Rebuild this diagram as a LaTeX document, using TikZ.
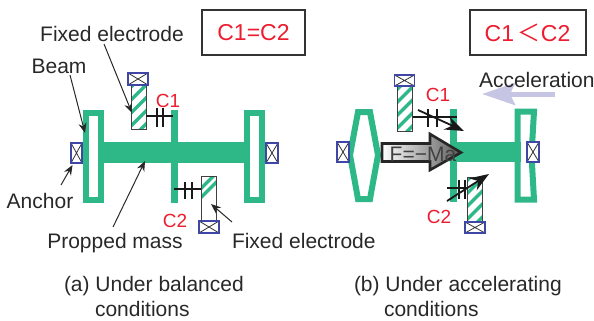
\documentclass[tikz,border=0pt]{standalone}
\usepackage{fontspec}
\setmainfont{Liberation Sans}
\newfontfamily\cjk{Noto Sans CJK SC}
\usepackage{tikz}
\usetikzlibrary{calc,arrows.meta}

\definecolor{massgreen}{RGB}{46,184,136}
\definecolor{anchorblue}{RGB}{64,70,165}
\definecolor{labelred}{RGB}{237,28,46}
\definecolor{textgray}{RGB}{40,40,40}
\definecolor{accelblue}{RGB}{198,198,228}

\tikzset{
    label_txt/.style={text=textgray, inner sep=0pt, font=\fontsize{21}{25}\selectfont},
    cap_txt/.style={text=labelred, inner sep=0pt, font=\fontsize{19}{23}\selectfont},
    cond_box/.style={draw=black!80, line width=2pt, text=labelred, inner sep=0pt,
        minimum height=45pt, font=\fontsize{23}{27}\selectfont},
    anchor_box/.style={draw=anchorblue, line width=1.2pt, fill=white, inner sep=0pt,
        path picture={
            \draw[line width=0.8pt, black!80]
            (path picture bounding box.north west) -- (path picture bounding box.south east)
            (path picture bounding box.north east) -- (path picture bounding box.south west);
        }},
    elec_box/.style={draw=black!75, line width=0.9pt, inner sep=0pt, minimum width=15pt,
        minimum height=45pt,
        path picture={
            \foreach \k in {#1}
            \draw[massgreen, line width=3.4pt]
            ($(path picture bounding box.south west) + (-2pt, \k pt)$) -- ++(20pt, 20pt);
        }},
    call_arrow/.style={-{Stealth[length=10pt, width=8pt]}, line width=1pt, textgray},
    plate/.style={line width=2pt, black!90},
    beam/.style={draw=massgreen, line width=6pt, miter limit=10},
    move_arrow/.style={-{Stealth[length=19pt, width=14pt]}, line width=1.8pt, black!90},
}

\begin{document}
\begin{tikzpicture}[x=1pt,y=-1pt,inner sep=0pt,outer sep=0pt]
    \useasboundingbox (0,0) rectangle (594,321);

    % balanced device
    \fill[massgreen] (104,142) rectangle (244,163);
    \fill[massgreen] (171,110) rectangle (178,203);
    \draw[beam] (86,113) rectangle (101,200);
    \draw[beam] (247,113) rectangle (262,200);

    \node[anchor_box, minimum width=11pt, minimum height=20pt] (anchor_l) at (76.5,153) {};
    \node[anchor_box, minimum width=12pt, minimum height=20pt] (anchor_r) at (272,153) {};

    % fixed electrodes
    \node[elec_box={-12,1,14,27,40}] (elec_top) at (138.5,106.5) {};
    \node[anchor_box, minimum width=20pt, minimum height=12pt] (elec_top_a) at (138,79) {};
    \node[elec_box={22,31}] (elec_bot) at (208.5,199) {};
    \node[anchor_box, minimum width=20pt, minimum height=12pt] (elec_bot_a) at (209,227) {};

    % capacitors
    \coordinate (c1_end) at (173,116);
    \draw[plate] (elec_top.east |- c1_end) -- (c1_end);
    \draw[plate] (157,108) -- (157,127) (163,108) -- (163,127);
    \coordinate (c2_end) at (174,189);
    \draw[plate] (c2_end) -- (elec_bot.west |- c2_end);
    \draw[plate] (185,182) -- (185,199) (192,182) -- (192,199);
    \node[cap_txt] (c1_txt) at (168,101) {C1};
    \node[cap_txt] (c2_txt) at (175,221) {C2};

    % labels
    \node[label_txt] (fixed_top) at (112,34) {Fixed electrode};
    \node[label_txt] (beam_txt) at (59,66) {Beam};
    \node[label_txt] (anchor_txt) at (40,201) {Anchor};
    \node[label_txt] (mass_txt) at (115,243) {Propped mass};
    \node[label_txt, anchor=west] (fixed_bot) at (232,241) {Fixed electrode};
    \node[cond_box, minimum width=103pt] (cond_a) at (253.5,32.5) {C1=C2};

    \coordinate (fixed_top_e) at (132,113);
    \coordinate (beam_e) at (85,133);
    \coordinate (mass_e) at (145,161);
    \coordinate (fixed_bot_e) at (211,204);
    \draw[call_arrow] (104,44) -- (fixed_top_e);
    \draw[call_arrow] (70,75) -- (beam_e);
    \draw[call_arrow] (61,185) -- ($(anchor_l.south) + (-4,2)$);
    \draw[call_arrow] (113,227) -- (mass_e);
    \draw[call_arrow] (232,222) -- (fixed_bot_e);

    % accelerating device
    \fill[massgreen] (457,142) rectangle (521,162);
    \fill[massgreen] (450,109) rectangle (457,202);
    \draw[beam] (358,112) -- (370,112) -- (378,155) -- (370,199) -- (358,199) -- (350,155) -- cycle;
    \draw[beam] (517.5,111.5) -- (534,111.5) -- (531.5,155) -- (534,199.5) -- (517.5,199.5) -- cycle;

    \node[anchor_box, minimum width=12pt, minimum height=20pt] (anchor_l2) at (343,152) {};
    \node[anchor_box, minimum width=12pt, minimum height=20pt] (anchor_r2) at (533,152) {};

    \node[elec_box={-12,1,14,27,40}] (elec_top2) at (405,108.5) {};
    \node[anchor_box, minimum width=20pt, minimum height=11pt] (elec_top2_a) at (404.5,80.5) {};
    \node[elec_box={-12,1,14,27,40}] (elec_bot2) at (475,199.5) {};
    \node[anchor_box, minimum width=20pt, minimum height=11pt] (elec_bot2_a) at (475,227.5) {};

    % force arrow
    \draw[black!85, line width=2.6pt, left color=white, right color=black!65]
    (382,143.5) -- (430,143.5) -- (430,134) -- (461,152.5) -- (430,170) -- (430,161.5) -- (382,161.5) -- cycle;
    \node[anchor=center, text=black!75, font=\fontsize{21}{25}\selectfont] (force_txt) at (423,154) {F=−Ma};

    % tilted capacitors
    \coordinate (c3_end) at (457,117);
    \draw[plate] (elec_top2.east |- c3_end) -- (c3_end);
    \draw[plate] (428,109) -- (428,127) (437,109) -- (437,127);
    \coordinate (c4_end) at (447,188);
    \draw[plate] (c4_end) -- (elec_bot2.west |- c4_end);
    \draw[plate] (459,180) -- (459,199) (465,180) -- (465,199);
    \coordinate (c3_a) at (418,110);
    \coordinate (c3_b) at (464,131);
    \coordinate (c4_a) at (447,201);
    \coordinate (c4_b) at (489,174);
    \draw[move_arrow] (c3_a) -- (c3_b);
    \draw[move_arrow] (c4_a) -- (c4_b);
    \node[cap_txt] (c1_txt2) at (438,95) {C1};
    \node[cap_txt] (c2_txt2) at (439,217) {C2};

    % acceleration
    \coordinate (accel_s) at (555,94);
    \coordinate (accel_e) at (482,94);
    \draw[accelblue, -{Stealth[length=33pt, width=22pt, inset=5pt]}, line width=5pt] (accel_s) -- (accel_e);
    \node[label_txt, anchor=west] (accel_txt) at (479,80) {Acceleration};
    \node[cond_box, minimum width=116pt] (cond_b) at (527.5,32.5) {C1\,{\cjk ＜}C2};

    % captions
    \node[label_txt, anchor=west] (cap_a) at (64,286.5) {(a) Under balanced};
    \node[label_txt, anchor=west] (cap_a2) at (95,309) {conditions};
    \node[label_txt, anchor=west] (cap_b) at (354,286.5) {(b) Under accelerating};
    \node[label_txt, anchor=west] (cap_b2) at (384,309) {conditions};
\end{tikzpicture}
\end{document}
